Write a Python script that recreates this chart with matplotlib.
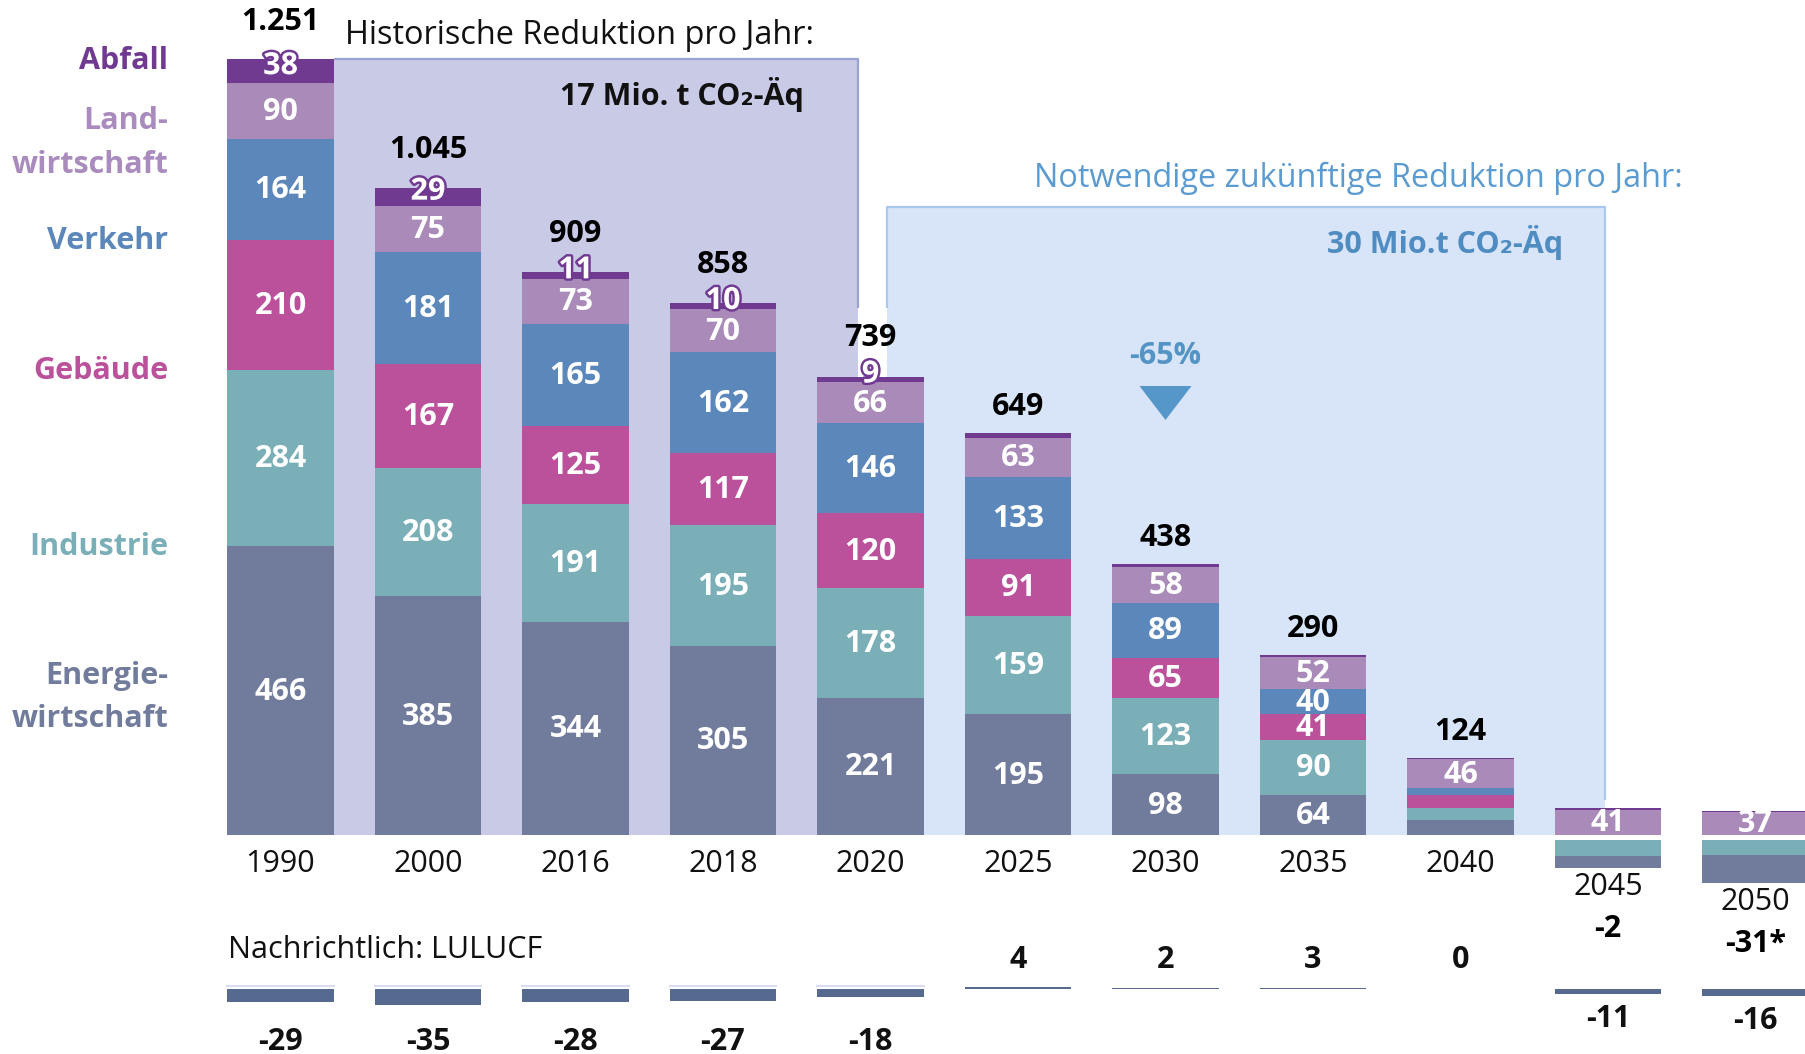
import numpy as np
import matplotlib
matplotlib.use("Agg")
from matplotlib import pyplot as plt
from matplotlib import patheffects as pe
from matplotlib.patches import Rectangle, Polygon

plt.rcParams['font.family'] = ['Open Sans', 'DejaVu Sans']

# data (Mio. t CO2-Aeq)
years = ['1990', '2000', '2016', '2018', '2020', '2025', '2030', '2035', '2040', '2045', '2050']
sectors = ['Energie-\nwirtschaft', 'Industrie', 'Gebäude', 'Verkehr', 'Land-\nwirtschaft', 'Abfall']
energie = [466, 385, 344, 305, 221, 195, 98, 64, 25, -19, -46]
industrie = [284, 208, 191, 195, 178, 159, 123, 90, 19, -26, -24]
gebaeude = [210, 167, 125, 117, 120, 91, 65, 41, 20, 0, 0]
verkehr = [164, 181, 165, 162, 146, 133, 89, 40, 12, 0, 0]
landwirtschaft = [90, 75, 73, 70, 66, 63, 58, 52, 46, 41, 37]
abfall = [38, 29, 11, 10, 9, 8, 5, 3, 2, 2, 2]
totals = ['1.251', '1.045', '909', '858', '739', '649', '438', '290', '124', '-2', '-31*']
lulucf = [-29, -35, -28, -27, -18, 4, 2, 3, 0, -11, -16]

colors = ['#717c9c', '#7aafb7', '#bb509b', '#5b87bb', '#a98ab9', '#713a91']
label_colors = ['#717c9c', '#7aafb7', '#bb509b', '#5b87bb', '#a98bbd', '#713a91']
label_y = [222, 465, 749, 959, 1117, 1249]

# layout helpers (pixel -> data), figure is 1806x1054 px
W = 0.722
K = 0.6195          # px per unit, main chart
X0, DX = 280.5, 147.5
BASE = 835          # zero line, px from top
NEG_GAP = 8
FS = 22


def px_x(p):
    return (p - X0) / DX


def py(p):
    return (BASE - p) / K


fig = plt.figure(figsize=(18.06, 10.54), dpi=100)
ax = fig.add_axes([0, 0, 1, 1])
ax.set_xlim(px_x(0), px_x(1806))
ax.set_ylim(py(1054), py(0))
ax.set_axis_off()

x = np.arange(len(years))
series = [energie, industrie, gebaeude, verkehr, landwirtschaft, abfall]

# background boxes
top90 = sum(s[0] for s in series)
hx0, hx1 = W / 2, px_x(858)
ax.add_patch(Rectangle((hx0, 0), hx1 - hx0, top90, color='#c9cae6', lw=0, zorder=1))
ax.plot([hx0, hx1, hx1], [top90, top90, py(308)], color='#99a2d3', lw=1.6, zorder=2,
        solid_capstyle='butt')
fx0, fx1, ftop = px_x(887), px_x(1605), py(207)
ax.add_patch(Rectangle((fx0, 0), fx1 - fx0, ftop, color='#d8e5f8', lw=0, zorder=1))
ax.plot([fx0, fx0, fx1, fx1], [py(308), ftop, ftop, py(800)], color='#a9c8ee', lw=1.6,
        zorder=2, solid_capstyle='butt')

# stacked bars
pos_base = np.zeros(len(years))
abfall_lab = {}
for s, vals in enumerate(series):
    v = np.array(vals, float)
    m = v > 0
    bars = ax.bar(x[m], v[m], W, bottom=pos_base[m], color=colors[s], lw=0, zorder=3)
    for b, i in zip(bars, x[m]):
        val = vals[i]
        if s == 5:
            if i <= 4:
                yl = pos_base[i] + val - val / 2 + 8
                abfall_lab[i] = yl
                ax.text(i, yl, str(val), ha='center', va='center', color='white',
                        fontsize=FS, fontweight='bold', zorder=6,
                        path_effects=[pe.withStroke(linewidth=3.5, foreground=colors[5])])
        elif val >= 30:
            t = ax.text(i, pos_base[i] + val / 2 - 1.5, str(val), ha='center',
                        va='center', color='white', fontsize=FS, fontweight='bold',
                        zorder=5)
            t.set_clip_path(b)
    pos_base[m] += v[m]

neg_base = np.full(len(years), -float(NEG_GAP))
for s in reversed(range(len(series))):
    v = np.array(series[s], float)
    m = v < 0
    if m.any():
        ax.bar(x[m], v[m], W, bottom=neg_base[m], color=colors[s], lw=0, zorder=3)
        neg_base[m] += v[m]

# totals and year labels
for i, yr in enumerate(years):
    if neg_base[i] < -NEG_GAP:
        yy = neg_base[i] - 19 / K
        ax.text(i, yy, yr, ha='center', va='center', fontsize=FS, color='#111111')
        ax.text(i, yy - 42 / K, totals[i], ha='center', va='center', fontsize=FS,
                fontweight='bold')
    else:
        ax.text(i, -29 / K, yr, ha='center', va='center', fontsize=FS, color='#111111')
        top = pos_base[i]
        yt = top + 42
        if i in abfall_lab:
            yt = max(top + 60, abfall_lab[i] + 58)
        ax.text(i, yt, totals[i], ha='center', va='center', fontsize=FS, fontweight='bold')

# sector names on the left
for s, name in enumerate(sectors):
    ax.text(px_x(168), label_y[s], name, ha='right', va='center', fontsize=FS,
            fontweight='bold', color=label_colors[s], linespacing=1.6)

# annotations
ax.text(px_x(345), py(35), 'Historische Reduktion pro Jahr:', ha='left', va='center',
        fontsize=23.4, color='#111111')
ax.text(px_x(804), py(94), '17 Mio. t CO₂-Äq', ha='right', va='center', fontsize=FS,
        fontweight='bold', color='#111111', zorder=4)
ax.text(px_x(1034), py(178), 'Notwendige zukünftige Reduktion pro Jahr:', ha='left',
        va='center', fontsize=23.4, color='#5b9bd0')
ax.text(px_x(1563), py(242), '30 Mio.t CO₂-Äq', ha='right', va='center', fontsize=FS,
        fontweight='bold', color='#4e8cc2', zorder=4)
ax.text(6, py(356), '-65%', ha='center', va='center', fontsize=FS, fontweight='bold',
        color='#5494c4', zorder=4)
hw = 26 / DX
ax.add_patch(Polygon([(6 - hw, py(386)), (6 + hw, py(386)), (6, py(420))],
                     closed=True, color='#5597c8', lw=0, zorder=4))
ax.text(px_x(228), py(950), 'Nachrichtlich: LULUCF', ha='left', va='center', fontsize=FS,
        color='#111111')

# LULUCF strip
K2 = 0.46
Z2 = 989
ax2 = fig.add_axes([0, 0, 1, 1], facecolor='none')
ax2.set_xlim(px_x(0), px_x(1806))
ax2.set_ylim(-(1054 - Z2) / K2, Z2 / K2)
ax2.set_axis_off()
lv = np.array(lulucf, float)
m = lv != 0
ax2.bar(x[m], lv[m], W, color='#566a8f', lw=0, zorder=3)
for i in range(5):
    ax2.plot([i - W / 2, i + W / 2], [3 / K2, 3 / K2], color='#dcdcf0', lw=1.5, zorder=2)
for i, v in enumerate(lulucf):
    if v >= 0:
        yl = 29 / K2
    elif i < 5:
        yl = -(1042 - Z2) / K2
    else:
        yl = v - 25 / K2
    ax2.text(i, yl, str(v), ha='center', va='center', fontsize=FS, fontweight='bold',
             color='#111111')

fig.savefig('out.png', dpi=100)
